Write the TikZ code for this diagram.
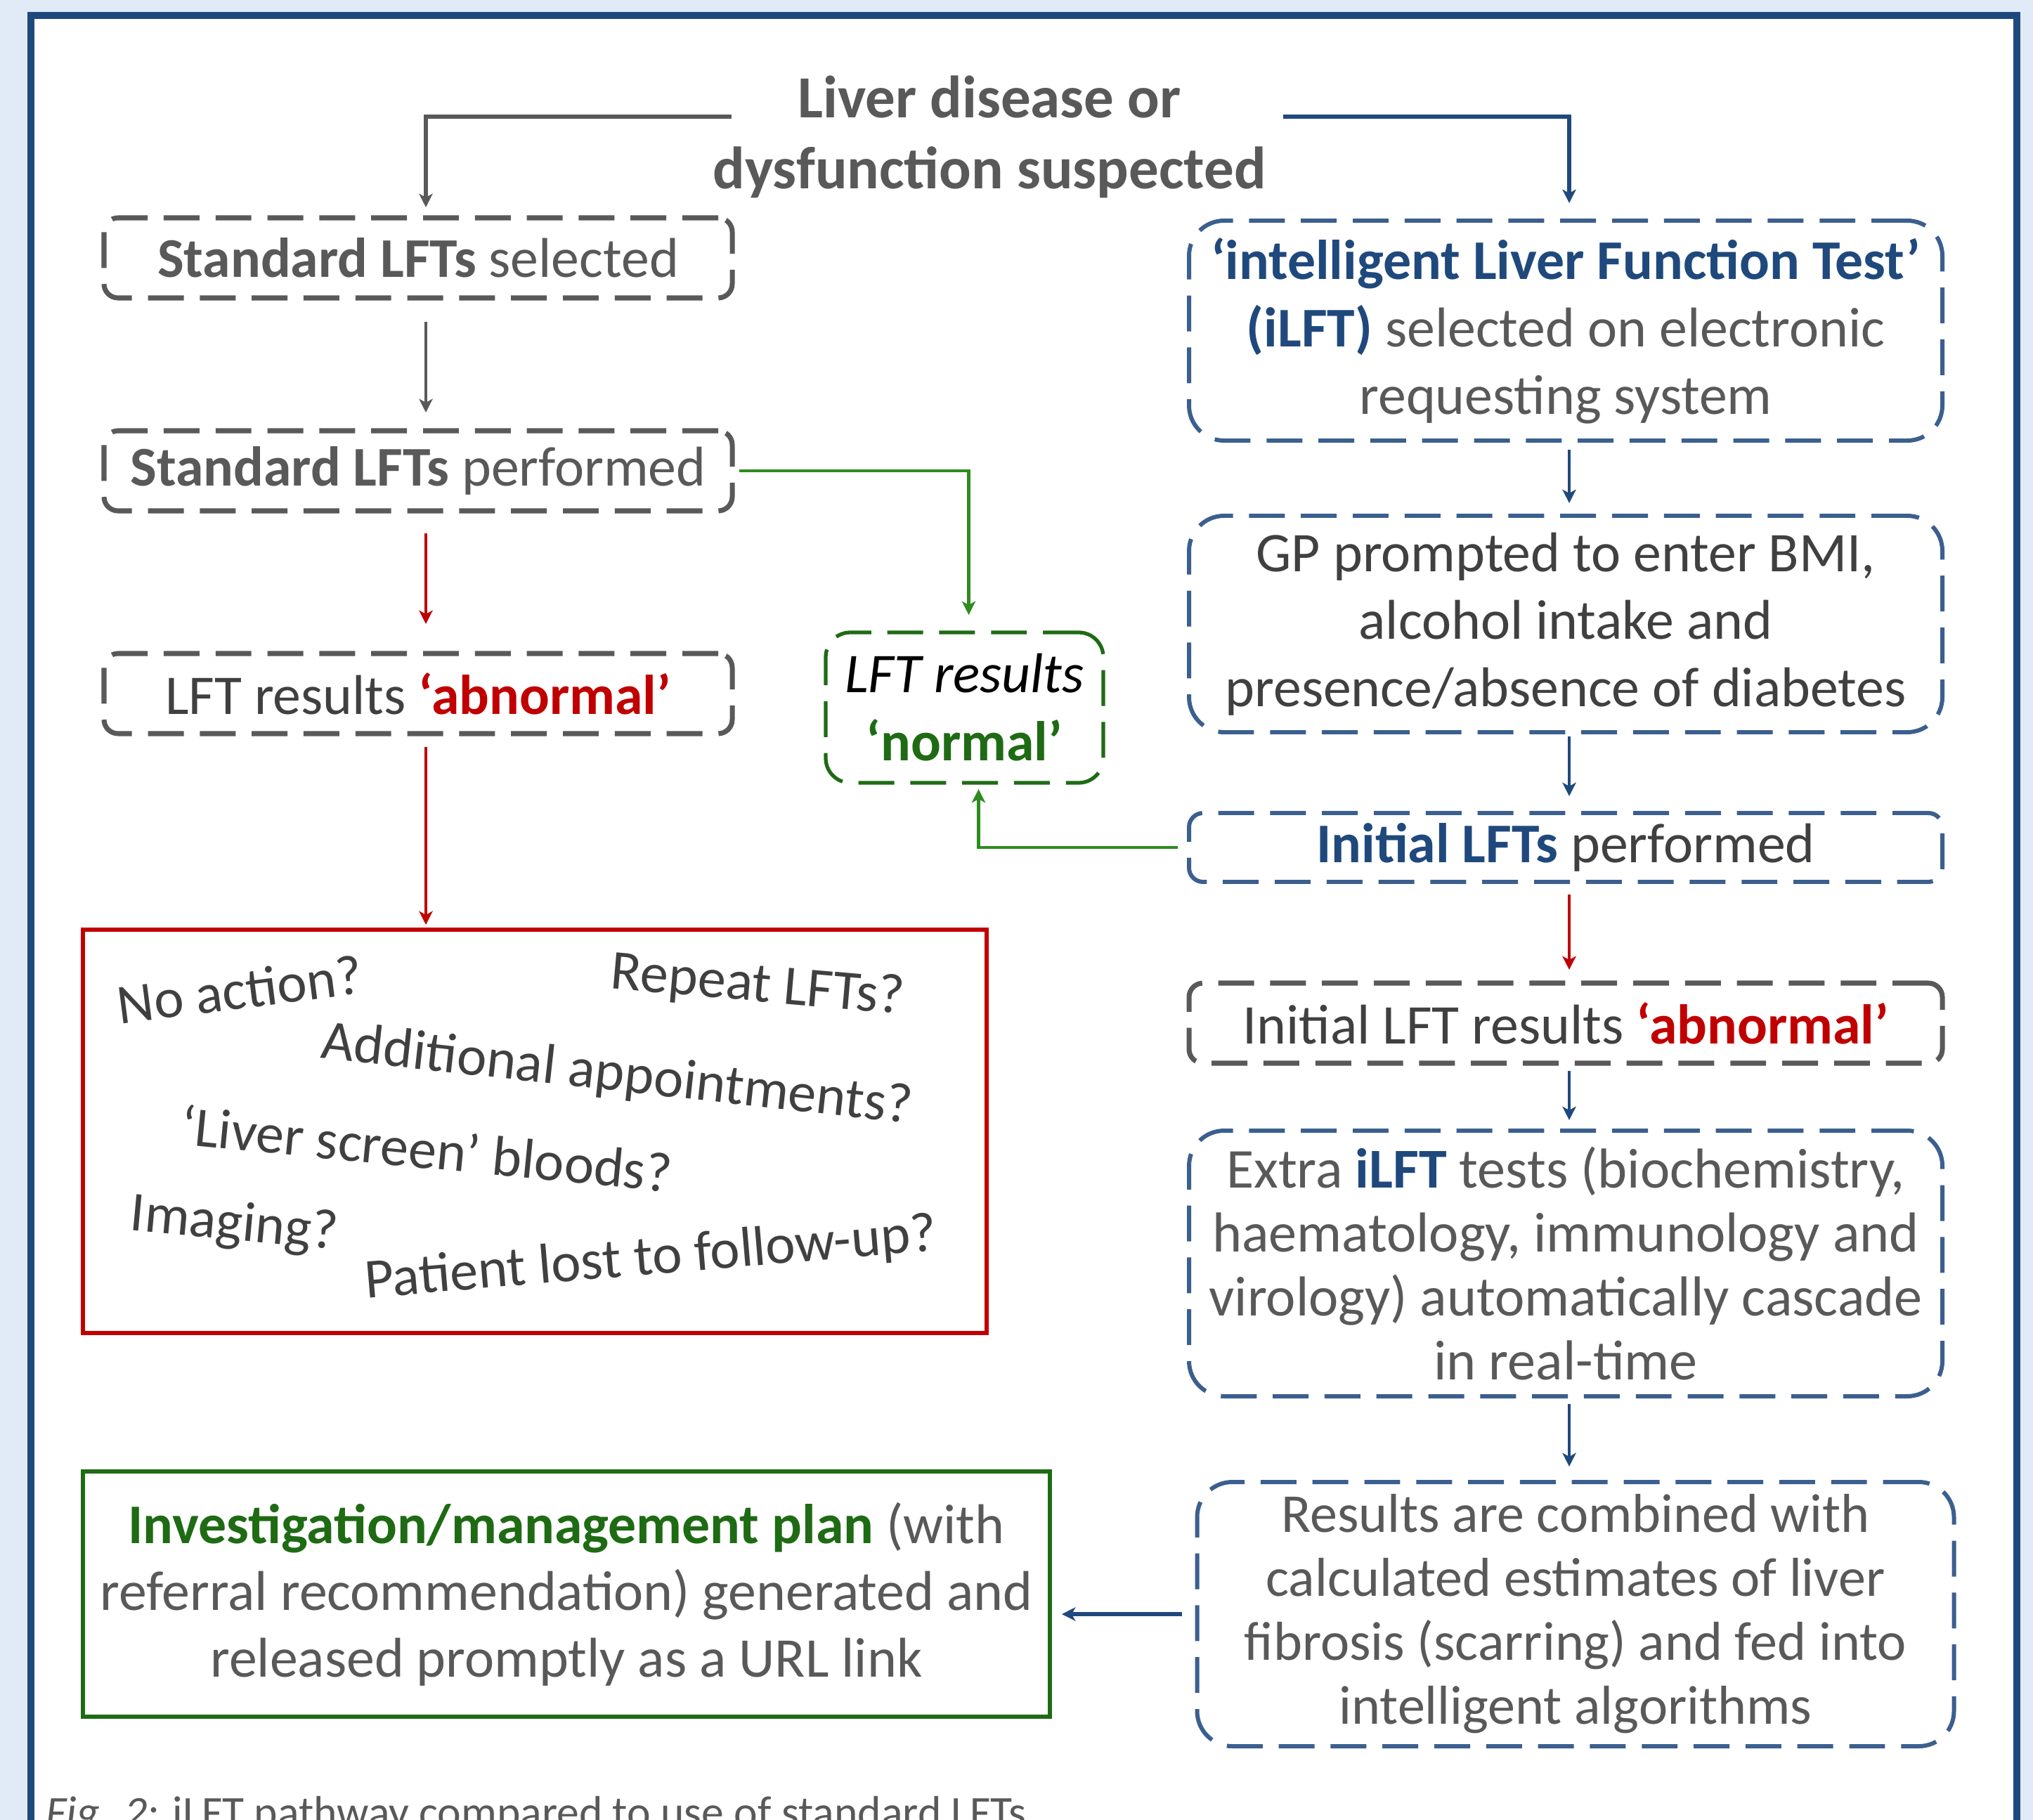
\documentclass[tikz,border=0pt]{standalone}
\usepackage{fontspec}
\setmainfont{Carlito}
\usetikzlibrary{arrows.meta,positioning}
\definecolor{bgblue}{HTML}{E1EBF7}
\definecolor{frameblue}{HTML}{1F497D}
\definecolor{dblue}{HTML}{1F497D}
\definecolor{dashblue}{HTML}{3B5F8E}
\definecolor{tgray}{HTML}{595959}
\definecolor{dgray}{HTML}{404040}
\definecolor{lred}{HTML}{C00000}
\definecolor{ggreen}{HTML}{1E6B14}
\definecolor{agreen}{HTML}{2E8B1E}
\newcommand\setfs[2]{\fontsize{#1}{#2}\selectfont}

\begin{document}
\begin{tikzpicture}[
  dashbox/.style={draw, line width=1.9pt, dash pattern=on 14.5pt off 6.5pt, inner sep=0pt, outer sep=0pt, align=center},
  graybox/.style={dashbox, draw=tgray, line width=2pt, rounded corners=0.2cm, minimum width=8.94cm, minimum height=1.14cm, text=tgray, font=\setfs{22.7}{27.3}},
  bluebox/.style={dashbox, draw=dashblue, line width=1.7pt, rounded corners=0.5cm, minimum width=10.72cm, text=tgray, font=\setfs{22.7}{27.3}},
  greenbox/.style={dashbox, draw=ggreen, line width=1.5pt, rounded corners=0.35cm, minimum width=3.95cm, minimum height=2.14cm, font=\setfs{22.7}{27.6}},
  solidbox/.style={draw=#1, line width=1.7pt, inner sep=0pt, outer sep=0pt, align=center},
  question/.style={text=dgray, font=\setfs{22.8}{26}, inner sep=0pt},
  flow/.style={-{Stealth[length=5.5pt,width=5.5pt,inset=1.5pt]}, line width=1.4pt},
]
\clip (0,0) rectangle (28.93,-25.90);
\fill[bgblue] (0,0) rectangle (28.93,-25.90);
\fill[white] (0.44,-0.22) rectangle (28.70,-26.5);
\draw[frameblue, line width=2.6pt] (0.44,-26.5) |- (28.70,-0.22) -- (28.70,-26.5);

\node[text=tgray, font=\bfseries\setfs{24.2}{28.7}, align=center, inner sep=0pt] (susp) at (14.08,-1.95) {Liver disease or\\dysfunction suspected};

\node[graybox] (selstd) at (5.95,-3.67) {\textbf{Standard LFTs} selected};
\node[graybox, below=1.89cm of selstd] (perfstd) {\textbf{Standard LFTs} performed};
\node[graybox, text=dgray, below=2.03cm of perfstd] (abnstd) {LFT results \textcolor{lred}{\textbf{‘abnormal’}}};
\node[solidbox=lred, minimum width=12.86cm, minimum height=5.74cm, below=2.79cm of abnstd.south west, anchor=north west, xshift=-0.30cm] (options) {};
\node[solidbox=ggreen, minimum width=13.76cm, minimum height=3.49cm, text=tgray, font=\setfs{22.7}{27}, below=1.97cm of options.south west, anchor=north west] (plan) {\textcolor{ggreen}{\textbf{Investigation/management plan}} (with\\referral recommendation) generated and\\released promptly as a URL link};

\node[question, rotate=7.3] (noact) at ([shift={(2.23,-0.85)}]options.north west) {No action?};
\node[question, rotate=-5] (repeat) at ([shift={(9.60,-0.81)}]options.north west) {Repeat LFTs?};
\node[question, rotate=-6.3] (appts) at ([shift={(7.60,-2.08)}]options.north west) {Additional appointments?};
\node[question, rotate=-5.6] (screen) at ([shift={(4.89,-3.11)}]options.north west) {‘Liver screen’ bloods?};
\node[question, rotate=-5.3] (imaging) at ([shift={(2.15,-4.21)}]options.north west) {Imaging?};
\node[question, rotate=4.8] (lost) at ([shift={(8.08,-4.69)}]options.north west) {Patient lost to follow-up?};

\node[greenbox, right=1.33cm of abnstd, yshift=-0.20cm] (normal) {\itshape LFT results\\\textcolor{ggreen}{\bfseries ‘normal’}};

\node[bluebox, minimum height=3.13cm] (ilft) at (22.28,-4.705) {\textcolor{dblue}{\textbf{‘intelligent Liver Function Test’}}\\\textcolor{dblue}{\textbf{(iLFT)}} selected on electronic\\requesting system};
\node[bluebox, text=dgray, minimum height=3.08cm, below=1.07cm of ilft] (gp) {GP prompted to enter BMI,\\alcohol intake and\\presence/absence of diabetes};
\node[bluebox, text=dgray, minimum height=0.98cm, rounded corners=0.2cm, below=1.15cm of gp] (initp) {\textcolor{dblue}{\textbf{Initial LFTs}} performed};
\node[graybox, text=dgray, minimum width=10.72cm, below=1.44cm of initp] (initabn) {Initial LFT results \textcolor{lred}{\textbf{‘abnormal’}}};
\node[bluebox, minimum height=3.78cm, font=\setfs{22.8}{25.9}, below=0.96cm of initabn] (extra) {Extra \textcolor{dblue}{\textbf{iLFT}} tests (biochemistry,\\haematology, immunology and\\virology) automatically cascade\\in real-time};
\node[bluebox, minimum width=10.77cm, minimum height=3.76cm, font=\setfs{22.2}{25.9}, below=1.22cm of extra, xshift=0.14cm] (results) {Results are combined with\\calculated estimates of liver\\fibrosis (scarring) and fed into\\intelligent algorithms};

\node[anchor=base west, text=tgray, font=\setfs{18.1}{22}, inner sep=0pt] (caption) at (0.65,-26.00) {\textit{Fig. 2:} iLFT pathway compared to use of standard LFTs};

\coordinate (suspl) at ([shift={(0.27,0.29)}]susp.west);
\coordinate (suspr) at ([shift={(0.24,0.29)}]susp.east);
\draw[flow, tgray, line width=1.8pt, shorten >=0.15cm] (suspl) -| ([xshift=0.11cm]selstd.north);
\draw[flow, dblue, line width=1.8pt, shorten >=0.25cm] (suspr) -| ([xshift=0.05cm]ilft.north);
\draw[flow, tgray, shorten <=0.34cm, shorten >=0.26cm] ([xshift=0.11cm]selstd.south) -- ([xshift=0.11cm]perfstd.north);
\draw[flow, lred, shorten <=0.32cm, shorten >=0.42cm] ([xshift=0.11cm]perfstd.south) -- ([xshift=0.11cm]abnstd.north);
\draw[flow, lred, shorten <=0.19cm, shorten >=0.07cm] ([xshift=0.11cm]abnstd.south) -- ([xshift=0.11cm]abnstd.south |- options.north);
\draw[flow, agreen, shorten <=0.10cm, shorten >=0.25cm] (perfstd.east) -| ([xshift=0.06cm]normal.north);
\draw[flow, agreen, shorten <=0.16cm, shorten >=0.09cm] (initp.west) -| ([xshift=0.20cm]normal.south);
\draw[flow, dblue, shorten <=0.13cm, shorten >=0.18cm] ([xshift=0.05cm]ilft.south) -- ([xshift=0.05cm]gp.north);
\draw[flow, dblue, shorten <=0.06cm, shorten >=0.24cm] ([xshift=0.05cm]gp.south) -- ([xshift=0.05cm]initp.north);
\draw[flow, lred, shorten <=0.18cm, shorten >=0.19cm] ([xshift=0.05cm]initp.south) -- ([xshift=0.05cm]initabn.north);
\draw[flow, dblue, shorten <=0.11cm, shorten >=0.15cm] ([xshift=0.05cm]initabn.south) -- ([xshift=0.05cm]extra.north);
\draw[flow, dblue, shorten <=0.11cm, shorten >=0.22cm] ([xshift=0.05cm]extra.south) -- ([xshift=0.05cm]extra.south |- results.north);
\draw[flow, dblue, line width=1.8pt, shorten <=0.22cm, shorten >=0.17cm] (results.west) -- (results.west -| plan.east);
\end{tikzpicture}
\end{document}
